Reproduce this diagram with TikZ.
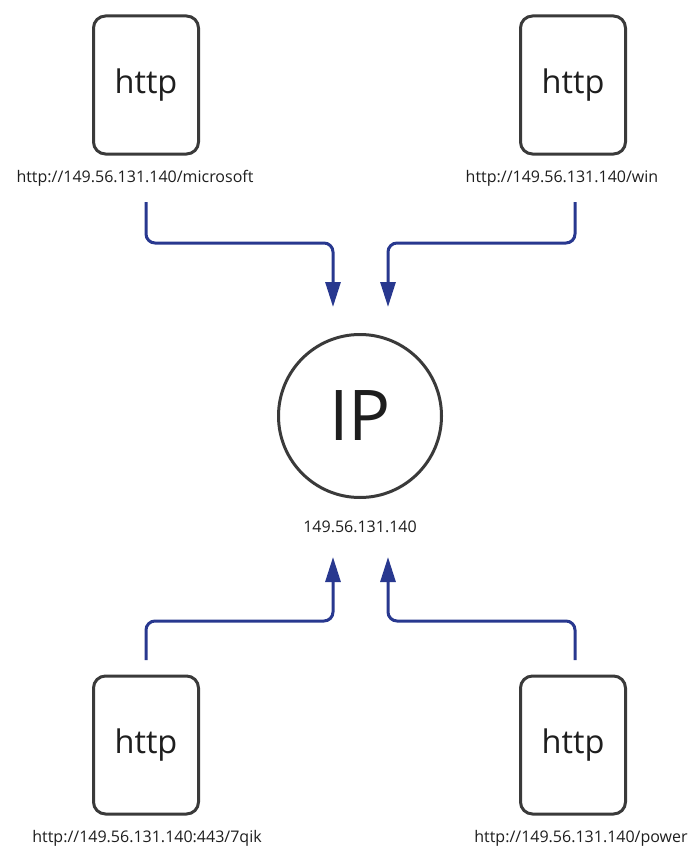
\documentclass[tikz,border=0pt]{standalone}
\usepackage{fontspec}
\setmainfont{Open Sans}
\usetikzlibrary{arrows.meta}
\definecolor{edgegray}{HTML}{3A3A3A}
\definecolor{inkblack}{HTML}{1E1E1E}
\definecolor{linkblue}{HTML}{28388F}
\tikzset{
  page/.style={x=1pt,y=1pt},
  server/.style={draw=edgegray, line width=3pt, rounded corners=12pt,
    minimum width=105pt, minimum height=138pt, inner sep=0pt,
    text=inkblack, font=\fontsize{32.5}{36}\selectfont},
  hub/.style={circle, draw=edgegray, line width=3pt, minimum size=163pt,
    inner sep=0pt, text=inkblack, font=\fontsize{70}{80}\selectfont},
  url/.style={text=inkblack, inner sep=0pt, font=\fontsize{16}{18}\selectfont},
  flow/.style={draw=linkblue, line width=3pt, rounded corners=9pt,
    -{Triangle[length=25pt,width=15pt]}},
}
\begin{document}
\begin{tikzpicture}[page]
\useasboundingbox (0,0) rectangle (690,-848);

% central address
\node[hub] (ip) at (360,-416) {IP};
\node[url] (iplbl) at (360,-527) {149.56.131.140};

% four http endpoints
\node[server] (s1) at (146,-85) {http};
\node[url] (l1) at (135,-178) {http://149.56.131.140/microsoft};
\node[server] (s2) at (573,-85) {http};
\node[url] (l2) at (562,-178) {http://149.56.131.140/win};
\node[server] (s3) at (146,-745) {http};
\node[url] (l3) at (147,-838) {http://149.56.131.140:443/7qik};
\node[server] (s4) at (573,-745) {http};
\node[url] (l4) at (581,-838) {http://149.56.131.140/power};

% connector ends
\coordinate (a1) at (146,-202);
\coordinate (t1) at (333,-307);
\coordinate (a2) at (575,-202);
\coordinate (t2) at (388,-307);
\coordinate (a3) at (146,-660);
\coordinate (t3) at (333,-557);
\coordinate (a4) at (575,-660);
\coordinate (t4) at (388,-557);

\draw[flow] (a1) -- (146,-243) -- (333,-243) -- (t1);
\draw[flow] (a2) -- (575,-243) -- (388,-243) -- (t2);
\draw[flow] (a3) -- (146,-621) -- (333,-621) -- (t3);
\draw[flow] (a4) -- (575,-621) -- (388,-621) -- (t4);
\end{tikzpicture}
\end{document}
